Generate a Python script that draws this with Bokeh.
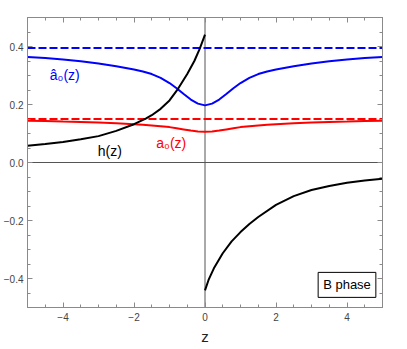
from bokeh.plotting import figure
from bokeh.models import FixedTicker, LinearAxis, Span, Label, Range1d
from bokeh.embed import file_html
from bokeh.resources import INLINE

# ---- data ----
x_ticks = [-4, -2, 0, 2, 4]
x_tick_labels = ["−4", "−2", "0", "2", "4"]
y_ticks = [-0.4, -0.2, 0.0, 0.2, 0.4]
y_tick_labels = ["−0.4", "−0.2", "0.0", "0.2", "0.4"]

z_grid = [-5, -4.5, -4, -3.5, -3, -2.5, -2, -1.75, -1.5, -1.25, -1, -0.8, -0.6, -0.4, -0.2, 0,
          0.2, 0.4, 0.6, 0.8, 1, 1.25, 1.5, 1.75, 2, 2.5, 3, 3.5, 4, 4.5, 5]
hat_a0 = [0.364, 0.360, 0.355, 0.349, 0.341, 0.332, 0.321, 0.314, 0.305, 0.292, 0.274, 0.256, 0.236, 0.217, 0.203, 0.197,
          0.203, 0.217, 0.236, 0.256, 0.274, 0.292, 0.305, 0.314, 0.321, 0.332, 0.341, 0.349, 0.355, 0.360, 0.364]
a0 = [0.144, 0.143, 0.141, 0.140, 0.138, 0.135, 0.132, 0.130, 0.128, 0.125, 0.122, 0.118, 0.114, 0.110, 0.107, 0.106,
      0.107, 0.110, 0.114, 0.118, 0.122, 0.125, 0.128, 0.130, 0.132, 0.135, 0.138, 0.140, 0.141, 0.143, 0.144]

z_left = [-5, -4.5, -4, -3.5, -3, -2.5, -2, -1.67, -1.5, -1.25, -1, -0.76, -0.5, -0.3, -0.15, 0]
h_left = [0.058, 0.064, 0.071, 0.080, 0.091, 0.109, 0.132, 0.151, 0.163, 0.185, 0.214, 0.254, 0.305, 0.350, 0.392, 0.441]
z_right = [0, 0.1, 0.25, 0.5, 0.75, 1, 1.25, 1.5, 2, 2.5, 3, 3.5, 4, 4.5, 5]
h_right = [-0.441, -0.405, -0.365, -0.313, -0.272, -0.240, -0.212, -0.188, -0.146, -0.116, -0.095, -0.081, -0.070, -0.062, -0.056]

hat_a0_limit = 0.395
a0_limit = 0.15
z_span = [-5, 5]

FONT = "Liberation Sans"
FRAME = "#8a8a8a"

p = figure(width=391, height=347, x_range=Range1d(-5, 5), y_range=Range1d(-0.5, 0.5),
           output_backend="svg", toolbar_location=None,
           min_border_left=22, min_border_right=9, min_border_top=17, min_border_bottom=38)
p.grid.visible = False
p.outline_line_color = FRAME
p.background_fill_color = "white"

x_minor = [v * 0.5 for v in range(-10, 11)]
y_minor = [v * 0.05 for v in range(-10, 11)]


def style_axis(ax, ticks, minor, labels, tick_values, show):
    ax.ticker = FixedTicker(ticks=ticks, minor_ticks=minor)
    ax.axis_line_color = FRAME
    ax.major_tick_line_color = FRAME
    ax.minor_tick_line_color = FRAME
    ax.major_tick_in = 5
    ax.major_tick_out = 0
    ax.minor_tick_in = 3
    ax.minor_tick_out = 0
    if show:
        ax.major_label_overrides = {t: l for t, l in zip(tick_values, labels)}
        ax.major_label_text_font = FONT
        ax.major_label_text_font_size = "10px"
        ax.major_label_text_color = "#444444"
        ax.major_label_standoff = 5
    else:
        ax.major_label_text_font_size = "0px"
        ax.major_label_text_color = None
        ax.major_label_standoff = 0


style_axis(p.xaxis[0], x_ticks, x_minor, x_tick_labels, x_ticks, True)
style_axis(p.yaxis[0], y_ticks, y_minor, y_tick_labels, y_ticks, True)
p.yaxis[0].major_label_standoff = 4
p.xaxis[0].axis_label = "z"
p.xaxis[0].axis_label_text_font = FONT
p.xaxis[0].axis_label_text_font_size = "15px"
p.xaxis[0].axis_label_text_font_style = "normal"
p.xaxis[0].axis_label_text_color = "#222222"
p.xaxis[0].axis_label_standoff = 4

top_ax = LinearAxis()
right_ax = LinearAxis()
style_axis(top_ax, x_ticks, x_minor, None, None, False)
style_axis(right_ax, y_ticks, y_minor, None, None, False)
p.add_layout(top_ax, "above")
p.add_layout(right_ax, "right")

# origin axes
p.add_layout(Span(location=0, dimension="width", line_color="#555555", line_width=1, level="underlay"))
p.add_layout(Span(location=0, dimension="height", line_color="#555555", line_width=1, level="underlay"))

# dashed asymptotes
p.line(z_span, [hat_a0_limit, hat_a0_limit], line_color="#0000ff", line_width=2, line_dash="8 3")
p.line(z_span, [a0_limit, a0_limit], line_color="#ff0000", line_width=2, line_dash="8 3")

# curves
p.line(z_grid, hat_a0, line_color="#0000ff", line_width=2)
p.line(z_grid, a0, line_color="#ff0000", line_width=2)
p.line(z_left, h_left, line_color="black", line_width=2)
p.line(z_right, h_right, line_color="black", line_width=2)

# curve labels
p.add_layout(Label(x=-3.95, y=0.303, text="â₀(z)", text_color="#0000ff", text_font=FONT,
                   text_font_size="14px", text_align="center", text_baseline="middle"))
p.add_layout(Label(x=-2.68, y=0.038, text="h(z)", text_color="black", text_font=FONT,
                   text_font_size="14px", text_align="center", text_baseline="middle"))
p.add_layout(Label(x=-0.95, y=0.067, text="a₀(z)", text_color="#ff0000", text_font=FONT,
                   text_font_size="14px", text_align="center", text_baseline="middle"))

# B phase box
p.add_layout(Label(x=4.0, y=-0.422, text="B phase", text_color="black", text_font=FONT,
                   text_font_size="13px", text_align="center", text_baseline="middle",
                   border_line_color="black", border_line_width=1,
                   background_fill_color="white", padding=5))

open("out.html", "w").write(file_html(p, INLINE))
